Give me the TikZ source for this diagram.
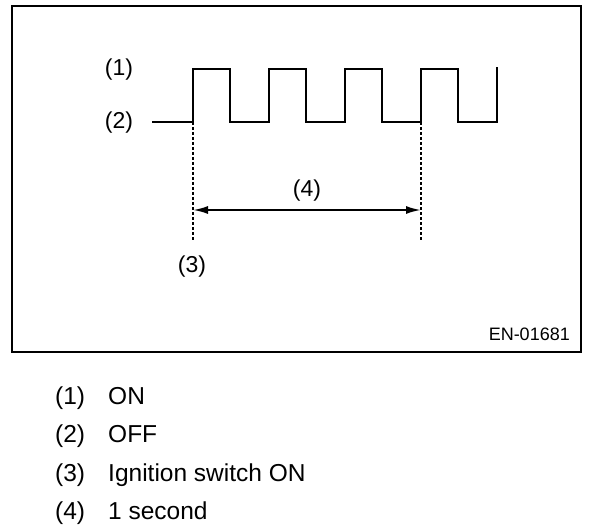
\documentclass[tikz,border=0pt]{standalone}
\usepackage{fontspec}
\setmainfont{Liberation Sans}
\usetikzlibrary{arrows.meta}

\begin{document}
\begin{tikzpicture}[x=1pt,y=-1pt,
    lbl/.style={inner sep=0pt,font=\fontsize{23}{26}\selectfont},
    key/.style={anchor=base west,inner sep=0pt,font=\fontsize{24.5}{28}\selectfont},
    wave/.style={line width=2pt,line join=miter},
    mark line/.style={line width=1.4pt,dash pattern=on 3pt off 2pt}]
  \useasboundingbox(0,0)rectangle(608,532);
  \draw[line width=2pt](12,6)rectangle(581,352);
  % signal
  \coordinate(start)at(152,122);
  \coordinate(sw)at(193,122);
  \draw[wave](start)--(sw)foreach\i in{1,...,4}{--++(0,-53)--++(37,0)--++(0,53)--++(39,0)}--++(0,-55);
  \coordinate(sec)at(421,122);
  \coordinate(swlow)at(193,240);
  \coordinate(seclow)at(421,240);
  \draw[mark line](sw)--(swlow);
  \draw[mark line](sec)--(seclow);
  \coordinate(from)at(193,210);
  \coordinate(to)at(421,210);
  \draw[{Latex[length=15pt,width=8pt]}-{Latex[length=15pt,width=8pt]},line width=2pt](from)--(to);
  \node[lbl](on)at(119,70){(1)};
  \node[lbl](off)at(119,123){(2)};
  \node[lbl](ign)at(192,267){(3)};
  \node[lbl](onesec)at(307,191){(4)};
  \node[anchor=east,inner sep=0pt,font=\fontsize{18}{20}\selectfont](code)at(570,334){EN-01681};
  % legend
  \foreach\n/\t/\y in{1/ON/404,2/OFF/442,3/Ignition switch ON/481,4/1 second/519}{
    \node[key](k\n)at(55,\y){(\n)};
    \node[key](t\n)at(108,\y){\t};
  }
\end{tikzpicture}
\end{document}
